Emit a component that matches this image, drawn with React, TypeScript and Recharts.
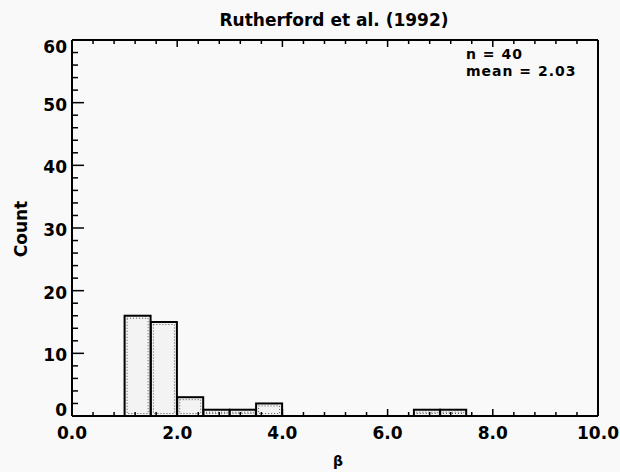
import React from "react";
import { BarChart, Bar, XAxis, YAxis } from "recharts";

const binCenters = [1.25, 1.75, 2.25, 2.75, 3.25, 3.75, 6.75, 7.25];
const counts = [16, 15, 3, 1, 1, 2, 1, 1];
const binEdges = [0, 0.5, 1, 1.5, 2, 2.5, 3, 3.5, 4, 4.5, 5, 5.5, 6, 6.5, 7, 7.5, 8, 8.5, 9, 9.5, 10];
const xTicks = [0, 0.4, 0.8, 1.2, 1.6, 2, 2.4, 2.8, 3.2, 3.6, 4, 4.4, 4.8, 5.2, 5.6, 6, 6.4, 6.8, 7.2, 7.6, 8, 8.4, 8.8, 9.2, 9.6, 10];
const yTicks = [0, 2, 4, 6, 8, 10, 12, 14, 16, 18, 20, 22, 24, 26, 28, 30, 32, 34, 36, 38, 40, 42, 44, 46, 48, 50, 52, 54, 56, 58, 60];
const titleText = "Rutherford et al. (1992)";
const statLines = ["n = 40", "mean = 2.03"];
const xLabel = "β";
const yLabel = "Count";

const data = binCenters.map((x, i) => ({ x, count: counts[i] }));

const FONT = "'DejaVu Sans', sans-serif";
const isMajorX = (v: number) => Math.abs(v / 2 - Math.round(v / 2)) < 1e-6;
const isMajorY = (v: number) => v % 10 === 0;

const BottomTick = (props: any) => {
  const { x, y, payload } = props;
  const v = payload.value;
  const major = isMajorX(v);
  return (
    <g>
      <line x1={x} x2={x} y1={y} y2={y - (major ? 7 : 4)} stroke="#000" strokeWidth={1.5} />
      {major && (
        <text x={x} y={y + 23} textAnchor="middle" fontFamily={FONT} fontWeight="bold" fontSize={17} fill="#000">
          {v.toFixed(1)}
        </text>
      )}
    </g>
  );
};

const TopTick = (props: any) => {
  const { x, y, payload } = props;
  const major = isMajorX(payload.value);
  return <line x1={x} x2={x} y1={y} y2={y + (major ? 7 : 4)} stroke="#000" strokeWidth={1.5} />;
};

const LeftTick = (props: any) => {
  const { x, y, payload } = props;
  const v = payload.value;
  const major = isMajorY(v);
  const dy = v === 0 ? -6 : v === 60 ? 7 : 2;
  return (
    <g>
      <line x1={x} x2={x + (major ? 12 : 6)} y1={y} y2={y} stroke="#000" strokeWidth={1.5} />
      {major && (
        <text x={x - 5} y={y + dy} textAnchor="end" dominantBaseline="central" fontFamily={FONT} fontWeight="bold" fontSize={17} fill="#000">
          {v}
        </text>
      )}
    </g>
  );
};

const RightTick = (props: any) => {
  const { x, y, payload } = props;
  const major = isMajorY(payload.value);
  return <line x1={x} x2={x - (major ? 10 : 5)} y1={y} y2={y} stroke="#000" strokeWidth={1.5} />;
};

const HistBar = (props: any) => {
  const { x, y, width, height } = props;
  if (!height || height <= 0) return null;
  return (
    <g>
      <rect x={x} y={y} width={width} height={height} fill="#f3f3f3" stroke="#000" strokeWidth={2} />
      {height > 6 && (
        <rect x={x + 2.5} y={y + 2.5} width={width - 5} height={height - 5} fill="none" stroke="#555" strokeWidth={1} strokeDasharray="1 2" />
      )}
    </g>
  );
};

const axisLine = { stroke: "#000", strokeWidth: 2 };

export default function App() {
  return (
    <div style={{ position: "absolute", left: 0, top: 0, width: 620, height: 472, background: "#f9f9f9" }}>
      <BarChart
        width={620}
        height={472}
        data={data}
        margin={{ top: 39, right: 21, bottom: 55, left: 71 }}
        barCategoryGap="0%"
        barGap={0}
      >
        <XAxis
          xAxisId="bar"
          dataKey="x"
          type="number"
          domain={[0, 10]}
          ticks={binEdges}
          interval={0}
          hide
          allowDataOverflow
        />
        <XAxis
          xAxisId="b"
          dataKey="x"
          type="number"
          domain={[0, 10]}
          ticks={xTicks}
          interval={0}
          orientation="bottom"
          height={1}
          tickSize={0}
          tickMargin={0}
          tickLine={false}
          axisLine={axisLine}
          tick={<BottomTick />}
          allowDataOverflow
        />
        <XAxis
          xAxisId="t"
          dataKey="x"
          type="number"
          domain={[0, 10]}
          ticks={xTicks}
          interval={0}
          orientation="top"
          height={1}
          tickSize={0}
          tickMargin={0}
          tickLine={false}
          axisLine={axisLine}
          tick={<TopTick />}
          allowDataOverflow
        />
        <YAxis
          yAxisId="l"
          type="number"
          domain={[0, 60]}
          ticks={yTicks}
          interval={0}
          orientation="left"
          width={1}
          tickSize={0}
          tickMargin={0}
          tickLine={false}
          axisLine={axisLine}
          tick={<LeftTick />}
        />
        <YAxis
          yAxisId="r"
          type="number"
          domain={[0, 60]}
          ticks={yTicks}
          interval={0}
          orientation="right"
          width={1}
          tickSize={0}
          tickMargin={0}
          tickLine={false}
          axisLine={axisLine}
          tick={<RightTick />}
        />
        <Bar
          dataKey="count"
          xAxisId="bar"
          yAxisId="l"
          shape={<HistBar />}
          isAnimationActive={false}
        />
        <text x={334} y={26} textAnchor="middle" fontFamily={FONT} fontWeight="bold" fontSize={17} fill="#000">
          {titleText}
        </text>
        {statLines.map((s, i) => (
          <text key={s} x={466} y={59 + i * 17} fontFamily={FONT} fontWeight="bold" fontSize={14} letterSpacing={1} fill="#000">
            {s}
          </text>
        ))}
        <text x={338} y={466} textAnchor="middle" fontFamily={FONT} fontWeight="bold" fontSize={14} fill="#000">
          {xLabel}
        </text>
        <text
          x={21}
          y={229}
          transform="rotate(-90 21 229)"
          textAnchor="middle"
          dominantBaseline="central"
          fontFamily={FONT}
          fontWeight="bold"
          fontSize={17}
          fill="#000"
        >
          {yLabel}
        </text>
      </BarChart>
    </div>
  );
}
